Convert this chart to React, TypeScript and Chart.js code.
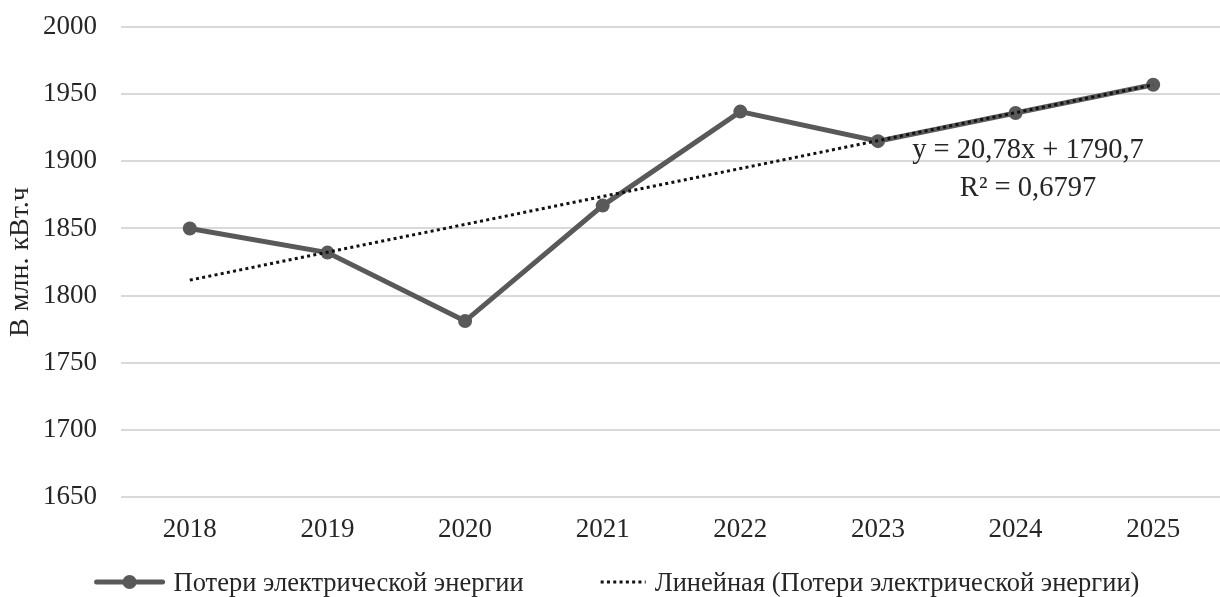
import React, { useEffect, useRef } from "react";
import { Chart, registerables } from "chart.js";

Chart.register(...registerables);

// ---- data ----
const categories = ["2018", "2019", "2020", "2021", "2022", "2023", "2024", "2025"];
const lossValues = [1850, 1832, 1781, 1867, 1937, 1915, 1936, 1957];
const trendValues = [1811.5, 1832.3, 1853.0, 1873.8, 1894.6, 1915.4, 1936.2, 1956.9];
const yMin = 1650;
const yMax = 2000;
const yStep = 50;
const seriesName = "Потери электрической энергии";
const trendName = "Линейная (Потери электрической энергии)";
const equationLines = ["y = 20,78x + 1790,7", "R² = 0,6797"];
const yTitle = "В млн. кВт.ч";

const FONT = '"Liberation Serif", "Times New Roman", serif';
const LINE_COLOR = "#595959";
const TREND_COLOR = "#111111";
const TEXT_COLOR = "#262626";

const CANVAS_W = 1229;
const CANVAS_H = 597;

const legendPlugin = {
  id: "bottomLegend",
  afterDraw(chart: any) {
    const ctx = chart.ctx as CanvasRenderingContext2D;
    ctx.save();
    ctx.font = `26.5px ${FONT}`;
    const sampleW = 70;
    const textGap = 9;
    const itemGap = 77;
    const dotW = 45;
    const w1 = ctx.measureText(seriesName).width;
    const w2 = ctx.measureText(trendName).width;
    const total = sampleW + textGap + w1 + itemGap + dotW + textGap + w2;
    let x = 617 - total / 2;
    const y = 582;
    // item 1: solid line with marker
    ctx.strokeStyle = LINE_COLOR;
    ctx.lineWidth = 5;
    ctx.lineCap = "round";
    ctx.beginPath();
    ctx.moveTo(x + 2, y);
    ctx.lineTo(x + sampleW - 2, y);
    ctx.stroke();
    ctx.fillStyle = LINE_COLOR;
    ctx.beginPath();
    ctx.arc(x + sampleW / 2, y, 7, 0, Math.PI * 2);
    ctx.fill();
    x += sampleW + textGap;
    ctx.fillStyle = TEXT_COLOR;
    ctx.textBaseline = "middle";
    ctx.textAlign = "left";
    ctx.fillText(seriesName, x, y + 2);
    x += w1 + itemGap;
    // item 2: dotted
    ctx.strokeStyle = TREND_COLOR;
    ctx.lineWidth = 3;
    ctx.lineCap = "butt";
    ctx.setLineDash([3, 3.3]);
    ctx.beginPath();
    ctx.moveTo(x, y);
    ctx.lineTo(x + dotW, y);
    ctx.stroke();
    ctx.setLineDash([]);
    x += dotW + textGap;
    ctx.fillStyle = TEXT_COLOR;
    ctx.fillText(trendName, x, y + 2);
    ctx.restore();
  },
};

const equationPlugin = {
  id: "trendEquation",
  afterDatasetsDraw(chart: any) {
    const ctx = chart.ctx as CanvasRenderingContext2D;
    const area = chart.chartArea;
    ctx.save();
    ctx.font = `28.5px ${FONT}`;
    ctx.fillStyle = TEXT_COLOR;
    ctx.textAlign = "center";
    ctx.textBaseline = "middle";
    const cx = area.right - 194;
    ctx.fillText(equationLines[0], cx, area.top + 124);
    ctx.fillText(equationLines[1], cx, area.top + 162);
    ctx.restore();
  },
};

export default function App() {
  const ref = useRef<HTMLCanvasElement>(null);

  useEffect(() => {
    if (!ref.current) return;
    const chart = new Chart(ref.current, {
      type: "line",
      data: {
        labels: categories,
        datasets: [
          {
            label: seriesName,
            data: lossValues,
            borderColor: LINE_COLOR,
            backgroundColor: LINE_COLOR,
            borderWidth: 5,
            pointRadius: 7,
            pointHoverRadius: 7,
            pointBackgroundColor: LINE_COLOR,
            pointBorderColor: LINE_COLOR,
            pointBorderWidth: 0,
            tension: 0,
            order: 1,
          },
          {
            label: trendName,
            data: trendValues,
            borderColor: TREND_COLOR,
            borderWidth: 3,
            borderDash: [3, 3.3],
            pointRadius: 0,
            tension: 0,
            order: 0,
          },
        ],
      },
      options: {
        responsive: false,
        animation: false,
        events: [],
        layout: { padding: { top: 27, left: 0, right: 0, bottom: 0 } },
        plugins: {
          legend: { display: false },
          tooltip: { enabled: false },
        },
        scales: {
          x: {
            offset: true,
            grid: { display: false },
            border: { display: false },
            ticks: {
              color: TEXT_COLOR,
              font: { family: FONT, size: 27 },
              padding: 9,
              maxRotation: 0,
            },
            afterFit(scale: any) {
              scale.height = 100;
            },
          },
          y: {
            min: yMin,
            max: yMax,
            border: { display: false },
            grid: {
              color: "#d9d9d9",
              lineWidth: 2,
              drawTicks: true,
              tickLength: 24,
              tickColor: "rgba(0,0,0,0)",
            },
            ticks: {
              stepSize: yStep,
              color: TEXT_COLOR,
              font: { family: FONT, size: 27 },
              padding: 0,
              callback: (v: any) => String(v),
            },
            title: {
              display: true,
              text: yTitle,
              color: TEXT_COLOR,
              font: { family: FONT, size: 28 },
              padding: { top: 4, bottom: 0 },
            },
            afterFit(scale: any) {
              scale.width = 121;
            },
          },
        },
      },
      plugins: [legendPlugin, equationPlugin],
    });
    return () => chart.destroy();
  }, []);

  return (
    <div
      style={{
        position: "fixed",
        left: 0,
        top: 0,
        width: 1220,
        height: 597,
        overflow: "hidden",
        background: "#ffffff",
      }}
    >
      <canvas ref={ref} width={CANVAS_W} height={CANVAS_H} style={{ display: "block" }} />
    </div>
  );
}
